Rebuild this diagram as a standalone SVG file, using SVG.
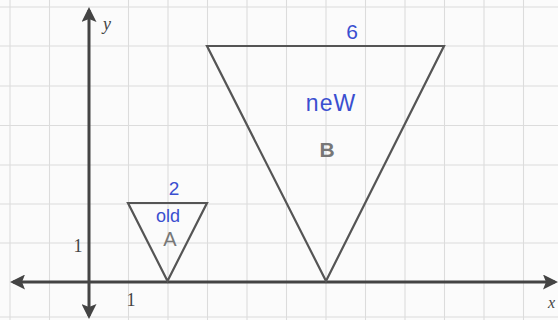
<svg xmlns="http://www.w3.org/2000/svg" width="558" height="320" viewBox="0 0 558 320">
<defs>
<style>
.grid line{stroke:#dcdcdc;stroke-width:1.1}
.axis{stroke:#444;stroke-width:3;fill:none}
.tri{fill:none;stroke:#555;stroke-width:2.2;stroke-linejoin:miter}
.ink{fill:#3a4fd0;font-family:"Liberation Sans",Arial,sans-serif}
.lbl{fill:#777;font-family:"Liberation Sans",Arial,sans-serif}
.num{fill:#444;font-family:"Liberation Serif","Times New Roman",serif}
</style>
<marker id="ah" viewBox="0 0 10 10" refX="8" refY="5" markerWidth="5" markerHeight="5" orient="auto-start-reverse">
<path d="M0,0 L10,5 L0,10 L2,5 Z" fill="#444"/>
</marker>
</defs>
<rect width="558" height="320" fill="#fbfbfb"/>
<g class="grid">
<line x1="10" y1="0" x2="10" y2="320"/>
<line x1="49.5" y1="0" x2="49.5" y2="320"/>
<line x1="128.5" y1="0" x2="128.5" y2="320"/>
<line x1="168" y1="0" x2="168" y2="320"/>
<line x1="207.5" y1="0" x2="207.5" y2="320"/>
<line x1="247" y1="0" x2="247" y2="320"/>
<line x1="286.5" y1="0" x2="286.5" y2="320"/>
<line x1="326" y1="0" x2="326" y2="320"/>
<line x1="365.5" y1="0" x2="365.5" y2="320"/>
<line x1="405" y1="0" x2="405" y2="320"/>
<line x1="444.5" y1="0" x2="444.5" y2="320"/>
<line x1="484" y1="0" x2="484" y2="320"/>
<line x1="523.5" y1="0" x2="523.5" y2="320"/>
<line x1="0" y1="7" x2="558" y2="7"/>
<line x1="0" y1="46" x2="558" y2="46"/>
<line x1="0" y1="86" x2="558" y2="86"/>
<line x1="0" y1="125.5" x2="558" y2="125.5"/>
<line x1="0" y1="165" x2="558" y2="165"/>
<line x1="0" y1="204" x2="558" y2="204"/>
<line x1="0" y1="243" x2="558" y2="243"/>
<line x1="0" y1="317" x2="558" y2="317"/>
</g>
<g id="connectors">
<line class="axis" x1="89" y1="316" x2="89" y2="10" marker-end="url(#ah)" marker-start="url(#ah)"/>
<line class="axis" x1="13" y1="282" x2="555" y2="282" marker-end="url(#ah)" marker-start="url(#ah)"/>
</g>
<g id="axis-labels">
<text class="num" x="103" y="30" font-size="18" font-style="italic">y</text>
<text class="num" x="548" y="308" font-size="16" font-style="italic">x</text>
<text class="num" x="78" y="252" font-size="18" text-anchor="middle">1</text>
<text class="num" x="131" y="306" font-size="18" text-anchor="middle">1</text>
</g>
<g id="triangle-A">
<polygon class="tri" points="128,203 207,203 167.5,281"/>
<text class="ink" x="174" y="195" font-size="19" text-anchor="middle">2</text>
<text class="ink" x="168" y="222" font-size="18" text-anchor="middle">old</text>
<text class="lbl" x="170" y="246" font-size="20" text-anchor="middle">A</text>
</g>
<g id="triangle-B">
<polygon class="tri" points="207,46 444,46 326,281"/>
<text class="ink" x="352" y="39" font-size="21" text-anchor="middle">6</text>
<text class="ink" x="331" y="111" font-size="23" letter-spacing="1" text-anchor="middle">neW</text>
<text class="lbl" x="327" y="157" font-size="21" font-weight="bold" text-anchor="middle">B</text>
</g>
</svg>
